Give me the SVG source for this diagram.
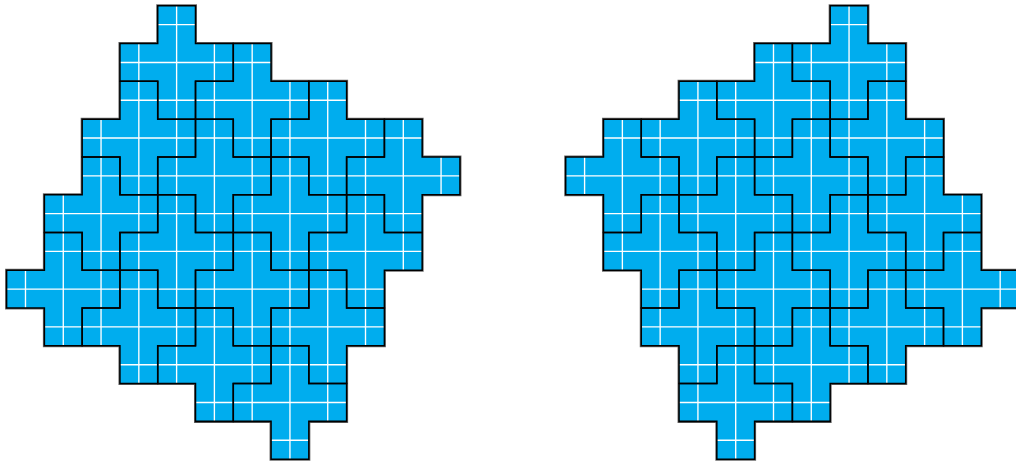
<svg xmlns="http://www.w3.org/2000/svg" xmlns:xlink="http://www.w3.org/1999/xlink" width="1016" height="465" viewBox="0 0 1016 465">
<style>
.under{fill:none;stroke:#6a6a6a;stroke-width:0.08;stroke-linejoin:miter}
.fill{fill:#00ADEE;stroke:none}
.grid{fill:none;stroke:#ffffff;stroke-width:0.036}
.tile{fill:none;stroke:#000000;stroke-width:0.04;stroke-linejoin:miter}
</style>
<defs>
<path id="plus" d="M0 -1h1v1h1v1h-1v1h-1v-1h-1v-1h1z"/>
<path id="gridlines" d="M0.5 0V12M1.5 0V12M2.5 0V12M3.5 0V12M4.5 0V12M5.5 0V12M6.5 0V12M7.5 0V12M8.5 0V12M9.5 0V12M10.5 0V12M11.5 0V12M0 0.5H12M0 1.5H12M0 2.5H12M0 3.5H12M0 4.5H12M0 5.5H12M0 6.5H12M0 7.5H12M0 8.5H12M0 9.5H12M0 10.5H12M0 11.5H12"/>
<path id="outlineL" d="M4 0H5V1H7V2H9V3H11V4H12V5H11V7H10V9H9V11H8V12H7V11H5V10H3V9H1V8H0V7H1V5H2V3H3V1H4Z"/>
<path id="outlineR" d="M8 0H7V1H5V2H3V3H1V4H0V5H1V7H2V9H3V11H4V12H5V11H7V10H9V9H11V8H12V7H11V5H10V3H9V1H8Z"/>
<clipPath id="clipL"><use xlink:href="#outlineL"/></clipPath>
<clipPath id="clipR"><use xlink:href="#outlineR"/></clipPath>
</defs>

<g id="figure-left" transform="translate(6.6 5.8) scale(37.78)">
<use class="under" xlink:href="#outlineL"/>
<use class="fill" xlink:href="#outlineL"/>
<use class="grid" xlink:href="#gridlines" clip-path="url(#clipL)"/>
<g id="tiles-left" class="tile">
<use id="L1" xlink:href="#plus" x="4" y="1"/>
<use id="L2" xlink:href="#plus" x="6" y="2"/>
<use id="L3" xlink:href="#plus" x="3" y="3"/>
<use id="L4" xlink:href="#plus" x="8" y="3"/>
<use id="L5" xlink:href="#plus" x="5" y="4"/>
<use id="L6" xlink:href="#plus" x="10" y="4"/>
<use id="L7" xlink:href="#plus" x="2" y="5"/>
<use id="L8" xlink:href="#plus" x="7" y="5"/>
<use id="L9" xlink:href="#plus" x="4" y="6"/>
<use id="L10" xlink:href="#plus" x="9" y="6"/>
<use id="L11" xlink:href="#plus" x="1" y="7"/>
<use id="L12" xlink:href="#plus" x="6" y="7"/>
<use id="L13" xlink:href="#plus" x="3" y="8"/>
<use id="L14" xlink:href="#plus" x="8" y="8"/>
<use id="L15" xlink:href="#plus" x="5" y="9"/>
<use id="L16" xlink:href="#plus" x="7" y="10"/>
</g>
</g>

<g id="figure-right" transform="translate(565.7 5.8) scale(37.78)">
<use class="under" xlink:href="#outlineR"/>
<use class="fill" xlink:href="#outlineR"/>
<use class="grid" xlink:href="#gridlines" clip-path="url(#clipR)"/>
<g id="tiles-right" class="tile">
<use id="R1" xlink:href="#plus" x="7" y="1"/>
<use id="R2" xlink:href="#plus" x="5" y="2"/>
<use id="R3" xlink:href="#plus" x="8" y="3"/>
<use id="R4" xlink:href="#plus" x="3" y="3"/>
<use id="R5" xlink:href="#plus" x="6" y="4"/>
<use id="R6" xlink:href="#plus" x="1" y="4"/>
<use id="R7" xlink:href="#plus" x="9" y="5"/>
<use id="R8" xlink:href="#plus" x="4" y="5"/>
<use id="R9" xlink:href="#plus" x="7" y="6"/>
<use id="R10" xlink:href="#plus" x="2" y="6"/>
<use id="R11" xlink:href="#plus" x="10" y="7"/>
<use id="R12" xlink:href="#plus" x="5" y="7"/>
<use id="R13" xlink:href="#plus" x="8" y="8"/>
<use id="R14" xlink:href="#plus" x="3" y="8"/>
<use id="R15" xlink:href="#plus" x="6" y="9"/>
<use id="R16" xlink:href="#plus" x="4" y="10"/>
</g>
</g>
</svg>
